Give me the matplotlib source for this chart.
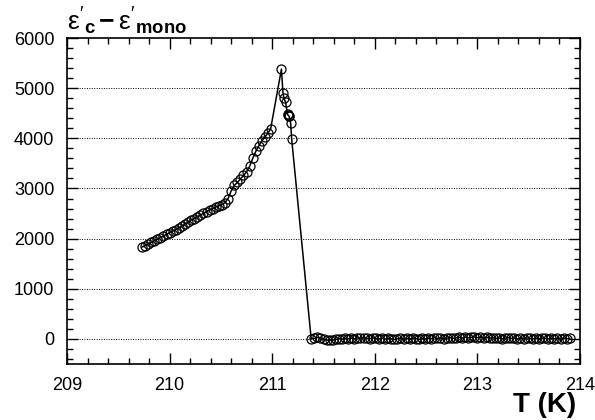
import matplotlib
matplotlib.use("Agg")
from matplotlib import pyplot as plt
from matplotlib.ticker import MultipleLocator

plt.rcParams['font.family'] = ['Liberation Sans', 'DejaVu Sans']
plt.rcParams['mathtext.fontset'] = 'custom'
plt.rcParams['mathtext.rm'] = 'Liberation Sans'
plt.rcParams['mathtext.it'] = 'Liberation Sans'
plt.rcParams['mathtext.bf'] = 'Liberation Sans:bold'

# rising part below the transition
t_low = [209.73, 209.76, 209.79, 209.82, 209.85, 209.88, 209.91, 209.94, 209.97,
         210.00, 210.03, 210.06, 210.09, 210.12, 210.15, 210.18, 210.21, 210.24,
         210.27, 210.30, 210.33, 210.36, 210.39, 210.42, 210.45, 210.48, 210.51,
         210.54, 210.57, 210.60, 210.63, 210.66, 210.69, 210.72, 210.75, 210.78,
         210.81, 210.84, 210.87, 210.90, 210.93, 210.96, 210.985]
e_low = [1830, 1860, 1890, 1925, 1955, 1990, 2020, 2050, 2085,
         2120, 2150, 2180, 2210, 2250, 2290, 2330, 2370, 2400,
         2435, 2470, 2505, 2540, 2570, 2600, 2630, 2655, 2680,
         2720, 2800, 2950, 3060, 3120, 3190, 3260, 3330, 3440,
         3600, 3740, 3850, 3950, 4030, 4110, 4190]

# peak and drop
t_peak = [211.09, 211.105, 211.115, 211.13, 211.15, 211.155, 211.16, 211.165, 211.18, 211.19]
e_peak = [5380, 4900, 4800, 4720, 4480, 4460, 4450, 4440, 4300, 3980]

# above the transition
t_high = [211.38, 211.41, 211.44, 211.47, 211.50, 211.53, 211.56, 211.59, 211.62, 211.65,
          211.68, 211.71, 211.74, 211.77, 211.80, 211.83, 211.86, 211.89, 211.92, 211.95,
          211.98, 212.01, 212.04, 212.07, 212.10, 212.13, 212.16, 212.19, 212.22, 212.25,
          212.28, 212.31, 212.34, 212.37, 212.40, 212.43, 212.46, 212.49, 212.52, 212.55,
          212.58, 212.61, 212.64, 212.67, 212.70, 212.73, 212.76, 212.79, 212.82, 212.85,
          212.88, 212.91, 212.94, 212.97, 213.00, 213.03, 213.06, 213.09, 213.12, 213.15,
          213.18, 213.21, 213.24, 213.27, 213.30, 213.33, 213.36, 213.39, 213.42, 213.45,
          213.48, 213.51, 213.54, 213.57, 213.60, 213.63, 213.66, 213.69, 213.72, 213.75,
          213.78, 213.81, 213.84, 213.87, 213.90]
e_high = [0, 10, 30, 20, -10, -20, -30, -25, -10, 5,
          -5, 10, 0, 15, 5, 20, 10, 25, 15, 5,
          20, 10, 0, 15, -5, 10, 0, -10, 5, 15,
          -5, 10, 0, 20, 5, -10, 10, 0, 15, 5,
          25, 10, 20, 5, 15, 25, 10, 20, 30, 15,
          35, 20, 30, 40, 25, 35, 20, 30, 15, 25,
          10, 20, 5, 15, 25, 10, 20, 0, 15, 5,
          20, 10, 0, 15, 5, 20, 10, 0, 15, 5,
          10, 0, 15, 5, 10]

T = t_low + t_peak + t_high
eps = e_low + e_peak + e_high

fig = plt.figure(figsize=(5.95, 4.2), dpi=100)
ax = fig.add_axes([0.1126, 0.1333, 0.8622, 0.7762])

for yv in range(0, 6000, 1000):
    ax.axhline(yv, color='black', linestyle=(0, (1, 1.5)), linewidth=0.7, zorder=1)

ax.plot(T, eps, color='black', linewidth=1.1, marker='o', markersize=6.5,
        markerfacecolor='none', markeredgecolor='black', markeredgewidth=0.9, zorder=3)

ax.set_xlim(209, 214)
ax.set_ylim(-500, 6000)
ax.xaxis.set_major_locator(MultipleLocator(1))
ax.xaxis.set_minor_locator(MultipleLocator(0.2))
ax.yaxis.set_major_locator(MultipleLocator(1000))
ax.yaxis.set_minor_locator(MultipleLocator(200))
ax.tick_params(which='both', direction='in', top=True, right=True, width=1.0)
ax.tick_params(which='major', length=8, labelsize=13, pad=9)
ax.tick_params(which='minor', length=4)
for s in ax.spines.values():
    s.set_linewidth(1.2)

fig.text(0.113, 0.912, r"$\varepsilon'_{\mathbf{c}}\,\mathbf{-}\,\varepsilon'_{\mathbf{mono}}$",
         fontsize=19, ha='left', va='bottom')
fig.text(0.968, 0.005, "T (K)", fontsize=20, fontweight='bold', ha='right', va='bottom')

fig.savefig("out.png", dpi=100)
